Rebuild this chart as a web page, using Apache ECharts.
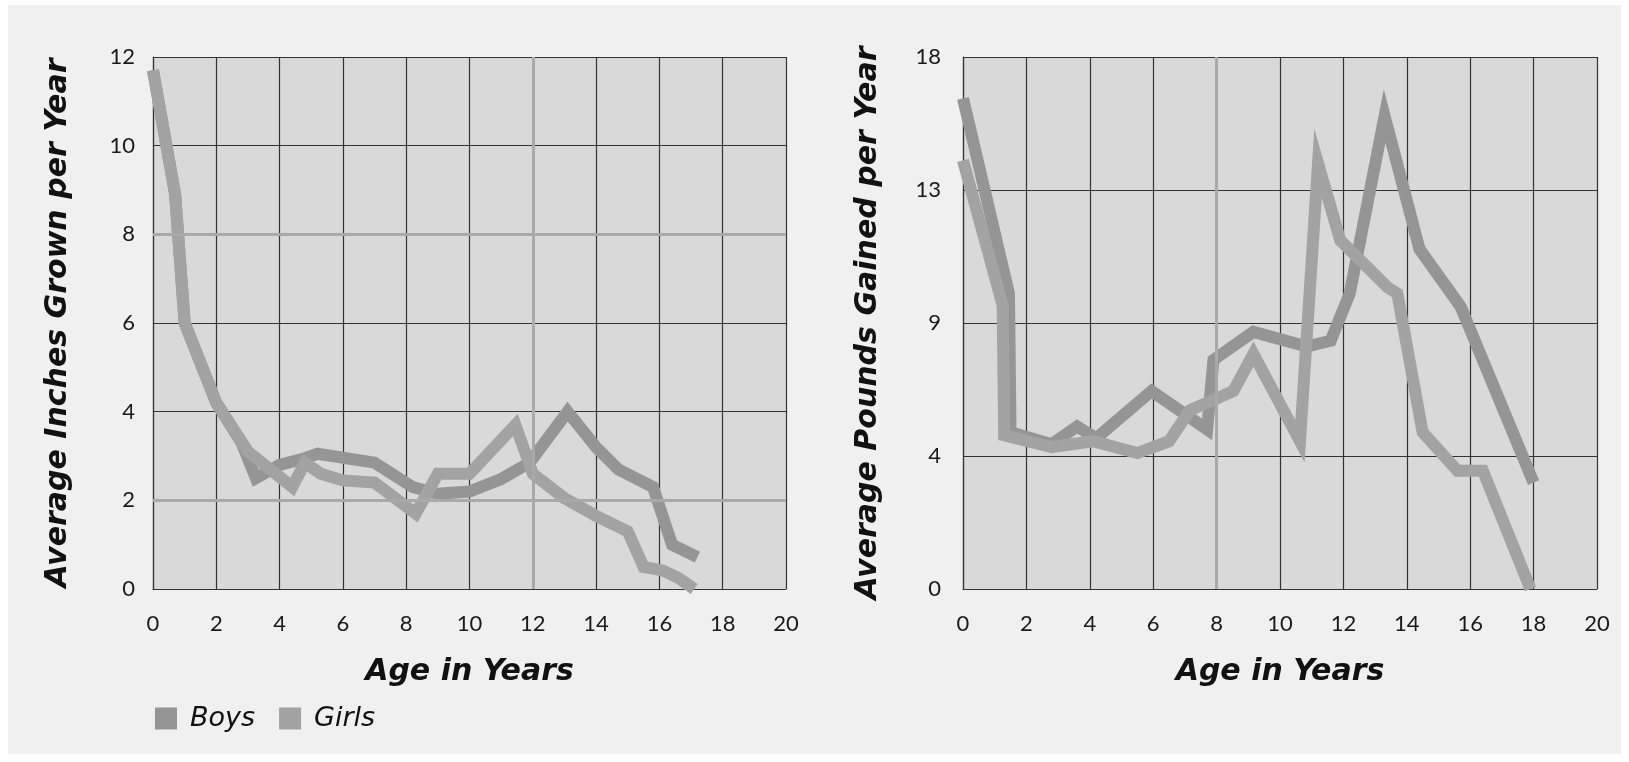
<!DOCTYPE html>
<html><head><meta charset="utf-8">
<script src="https://cdn.jsdelivr.net/npm/echarts@6/dist/echarts.min.js"></script>
<style>
html,body{margin:0;padding:0;background:#fff;width:1629px;height:762px;overflow:hidden}
#chart{position:absolute;left:8px;top:5px;width:1613px;height:749px;background:#f0f0f0}
</style></head><body><div id="chart"></div>
<script>
// ---- data ----
const seriesNames = ['Boys', 'Girls'];
const xTickLabels = ['0','2','4','6','8','10','12','14','16','18','20'];
const heightTickLabels = ['0','2','4','6','8','10','12'];
const weightTickValues = [0, 4.5, 9, 13.5, 18];
const weightTickLabels = ['0','4','9','13','18'];

const boysHeightAge = [0, 0.7, 1, 2, 2.8, 3.25, 4.0, 4.8, 5.2, 7.0, 8.2, 9.0, 10, 11, 11.9, 13.1, 14, 14.7, 15.8, 16.4, 17.2];
const boysHeightVal = [11.7, 8.9, 6.0, 4.2, 3.3, 2.5, 2.8, 2.95, 3.05, 2.85, 2.3, 2.15, 2.2, 2.48, 2.85, 4.0, 3.2, 2.7, 2.3, 1.0, 0.72];
const girlsHeightAge = [0, 0.7, 1, 2, 3.0, 3.7, 4.4, 4.8, 5.3, 6.0, 7.0, 8.3, 9.0, 10, 11.45, 12, 13, 14, 15, 15.5, 16.1, 16.6, 17.1];
const girlsHeightVal = [11.7, 8.9, 6.0, 4.2, 3.1, 2.7, 2.3, 2.85, 2.6, 2.45, 2.4, 1.7, 2.6, 2.6, 3.7, 2.6, 2.05, 1.65, 1.3, 0.5, 0.42, 0.25, 0];

const boysWeightAge = [0, 1.45, 1.5, 2.8, 3.6, 4.2, 5.95, 7.7, 7.9, 9.16, 10.85, 11.6, 12.2, 13.3, 14.4, 15.7, 18];
const boysWeightVal = [16.6, 10.0, 5.3, 4.9, 5.5, 5.1, 6.7, 5.4, 7.75, 8.7, 8.2, 8.4, 10.0, 16.0, 11.5, 9.55, 3.6];
const girlsWeightAge = [0, 1.25, 1.3, 2.8, 4.1, 5.5, 6.5, 7.16, 8.53, 9.16, 10.63, 11.2, 11.9, 13.4, 13.7, 14.5, 15.6, 16.4, 17.9];
const girlsWeightVal = [14.5, 9.6, 5.2, 4.8, 5.0, 4.6, 5.0, 6.05, 6.7, 7.95, 5.0, 14.4, 11.8, 10.2, 10.0, 5.3, 4.0, 4.0, 0];

// light (faded) grid lines seen in the original
const heightLightY = [2, 8];
const heightLightX = [12];
const weightLightX = [8];

// ---- helpers ----
const zip = (a, b) => a.map((v, i) => [v, b[i]]);
const tickFont = { fontFamily: 'Lato', fontSize: 22, color: '#1a1a1a' };
const titleFont = { fontFamily: 'DejaVu Sans', fontWeight: 'bold', fontStyle: 'italic', fontSize: 30, color: '#111' };
const darkLine = { color: '#333333', width: 1.2 };
const colors = { Boys: '#959595', Girls: '#a3a3a3' };

function xAxis(gi) {
  return {
    type: 'value', gridIndex: gi, min: 0, max: 20, interval: 2,
    axisLine: { show: true, lineStyle: darkLine }, axisTick: { show: false },
    splitLine: { show: true, lineStyle: darkLine },
    axisLabel: Object.assign({ margin: 24, formatter: v => xTickLabels[Math.round(v / 2)] }, tickFont),
    name: 'Age in Years', nameLocation: 'middle', nameGap: 68, nameTextStyle: titleFont
  };
}
function lineSeries(name, data, xi) {
  return {
    name, type: 'line', xAxisIndex: xi, yAxisIndex: xi, data,
    symbol: 'none', showSymbol: false, z: 3,
    color: colors[name],
    itemStyle: { color: colors[name] },
    lineStyle: { color: colors[name], width: 12, join: 'miter', cap: 'butt' }
  };
}
function lightSeries(xi, ys, xs) {
  return {
    type: 'line', xAxisIndex: xi, yAxisIndex: xi, data: [], z: 1, silent: true,
    markLine: {
      silent: true, symbol: 'none', label: { show: false }, animation: false,
      lineStyle: { color: '#a9a9a9', width: 3, type: 'solid' },
      data: ys.map(v => ({ yAxis: v })).concat(xs.map(v => ({ xAxis: v })))
    }
  };
}

const chart = echarts.init(document.getElementById('chart'), null, { renderer: 'canvas' });
chart.setOption({
  animation: false,
  grid: [
    { left: 145, top: 52, width: 633, height: 532, show: true, backgroundColor: '#d9d9d9', borderWidth: 0 },
    { left: 955, top: 52, width: 634, height: 532, show: true, backgroundColor: '#d9d9d9', borderWidth: 0 }
  ],
  xAxis: [xAxis(0), xAxis(1)],
  yAxis: [
    {
      type: 'value', gridIndex: 0, min: 0, max: 12, interval: 2,
      axisLine: { show: true, lineStyle: darkLine }, axisTick: { show: false },
      splitLine: { show: true, lineStyle: darkLine },
      axisLabel: Object.assign({ margin: 18, formatter: v => heightTickLabels[Math.round(v / 2)] }, tickFont),
      name: 'Average Inches Grown per Year', nameLocation: 'middle', nameRotate: 90, nameGap: 80, nameTextStyle: titleFont
    },
    {
      type: 'value', gridIndex: 1, min: 0, max: 18, interval: 4.5,
      axisLine: { show: true, lineStyle: darkLine }, axisTick: { show: false },
      splitLine: { show: true, lineStyle: darkLine },
      axisLabel: Object.assign({ margin: 22, formatter: v => weightTickLabels[weightTickValues.indexOf(v)] }, tickFont),
      name: 'Average Pounds Gained per Year', nameLocation: 'middle', nameRotate: 90, nameGap: 80, nameTextStyle: titleFont
    }
  ],
  legend: {
    left: 142, top: 695, itemWidth: 22, itemHeight: 22, itemGap: 24, icon: 'rect',
    data: seriesNames,
    textStyle: { fontFamily: 'DejaVu Sans', fontStyle: 'italic', fontSize: 27, color: '#111', padding: [0, 0, 0, 8] }
  },
  series: [
    lightSeries(0, heightLightY, heightLightX),
    lightSeries(1, [], weightLightX),
    lineSeries('Boys', zip(boysHeightAge, boysHeightVal), 0),
    lineSeries('Girls', zip(girlsHeightAge, girlsHeightVal), 0),
    lineSeries('Boys', zip(boysWeightAge, boysWeightVal), 1),
    lineSeries('Girls', zip(girlsWeightAge, girlsWeightVal), 1)
  ]
});
</script></body></html>
